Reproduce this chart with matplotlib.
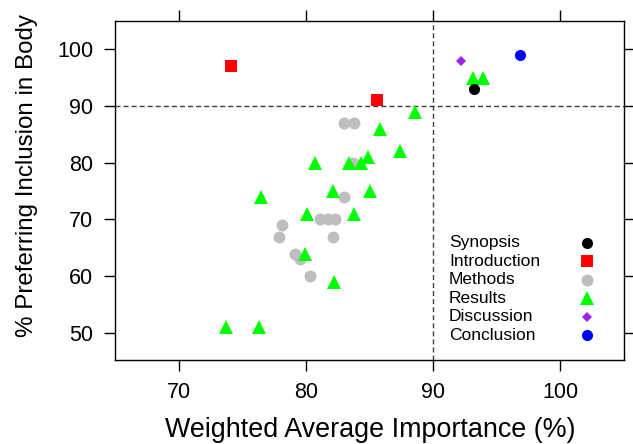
import numpy as np
import matplotlib.pyplot as plt

plt.rcParams['font.family'] = ['Liberation Sans', 'DejaVu Sans']

##### data
syn_x = [93.2]
syn_y = [93.0]

intro_x = [74.1, 85.6]
intro_y = [97.0, 91.0]

meth_x = [83.0, 83.8, 83.7, 83.0, 81.1, 81.7, 82.3, 78.1, 77.9, 82.1, 79.1, 79.5, 80.3]
meth_y = [87.0, 87.0, 80.0, 74.0, 70.0, 70.0, 70.0, 69.0, 67.0, 67.0, 64.0, 63.0, 60.0]

res_x = [93.1, 93.9, 85.8, 88.6, 87.4, 80.7, 83.4, 84.3, 84.9, 76.5, 82.1, 85.0,
         80.1, 83.8, 79.9, 82.2, 76.3, 73.7]
res_y = [95.0, 95.0, 86.0, 89.0, 82.0, 80.0, 80.0, 80.0, 81.0, 74.0, 75.0, 75.0,
         71.0, 71.0, 64.0, 59.0, 51.0, 51.0]

disc_x = [92.2]
disc_y = [98.0]

conc_x = [96.8]
conc_y = [99.0]

sections = ['Synopsis', 'Introduction', 'Methods', 'Results', 'Discussion', 'Conclusion']
colors = ['black', '#ff0000', '#bebebe', '#00ff00', '#a020f0', '#0000ff']
markers = ['o', 's', 'o', '^', 'D', 'o']
msizes = [8, 8, 8.6, 10, 5.6, 8]

xticks = [70, 80, 90, 100]
yticks = [50, 60, 70, 80, 90, 100]

fig = plt.figure(figsize=(6.33, 4.44), dpi=100)
ax = fig.add_axes([0.182, 0.189, 0.8036, 0.7635])

# reference lines
ax.axvline(90, color='#404040', lw=1, dashes=(3.6, 2.2), zorder=1)
ax.axhline(90, color='#404040', lw=1, dashes=(3.6, 2.2), zorder=1)

# methods first so the triangles sit on top
order = [2, 3, 0, 1, 4, 5]
xs = [syn_x, intro_x, meth_x, res_x, disc_x, conc_x]
ys = [syn_y, intro_y, meth_y, res_y, disc_y, conc_y]
for i in order:
    ax.plot(xs[i], ys[i], linestyle='none', marker=markers[i], ms=msizes[i],
            color=colors[i], markeredgewidth=0, zorder=3)

ax.set_xlim(65, 105)
ax.set_ylim(45.2, 105)
ax.set_xticks(xticks)
ax.set_yticks(yticks)
ax.tick_params(direction='out', length=7.7, width=1, labelsize=15.5,
               top=True, right=True, labeltop=False, labelright=False, pad=8)
for s in ax.spines.values():
    s.set_linewidth(1)

# legend drawn by hand: text left, symbol column right
leg_y0 = 0.346
leg_dy = 0.0546
for k in range(len(sections)):
    yy = leg_y0 - k * leg_dy
    ax.text(0.656, yy, sections[k], transform=ax.transAxes, fontsize=12.5,
            va='center', ha='left')
    ax.plot([0.927], [yy], transform=ax.transAxes, linestyle='none',
            marker=markers[k], ms=msizes[k], color=colors[k],
            markeredgewidth=0, clip_on=False)

fig.text(370 / 633, 1 - 430 / 444, 'Weighted Average Importance (%)',
         fontsize=19.4, ha='center', va='center')
fig.text(27 / 633, 1 - 175 / 444, '% Preferring Inclusion in Body',
         fontsize=17.4, ha='center', va='center', rotation=90)

plt.savefig('out.png', dpi=100)
